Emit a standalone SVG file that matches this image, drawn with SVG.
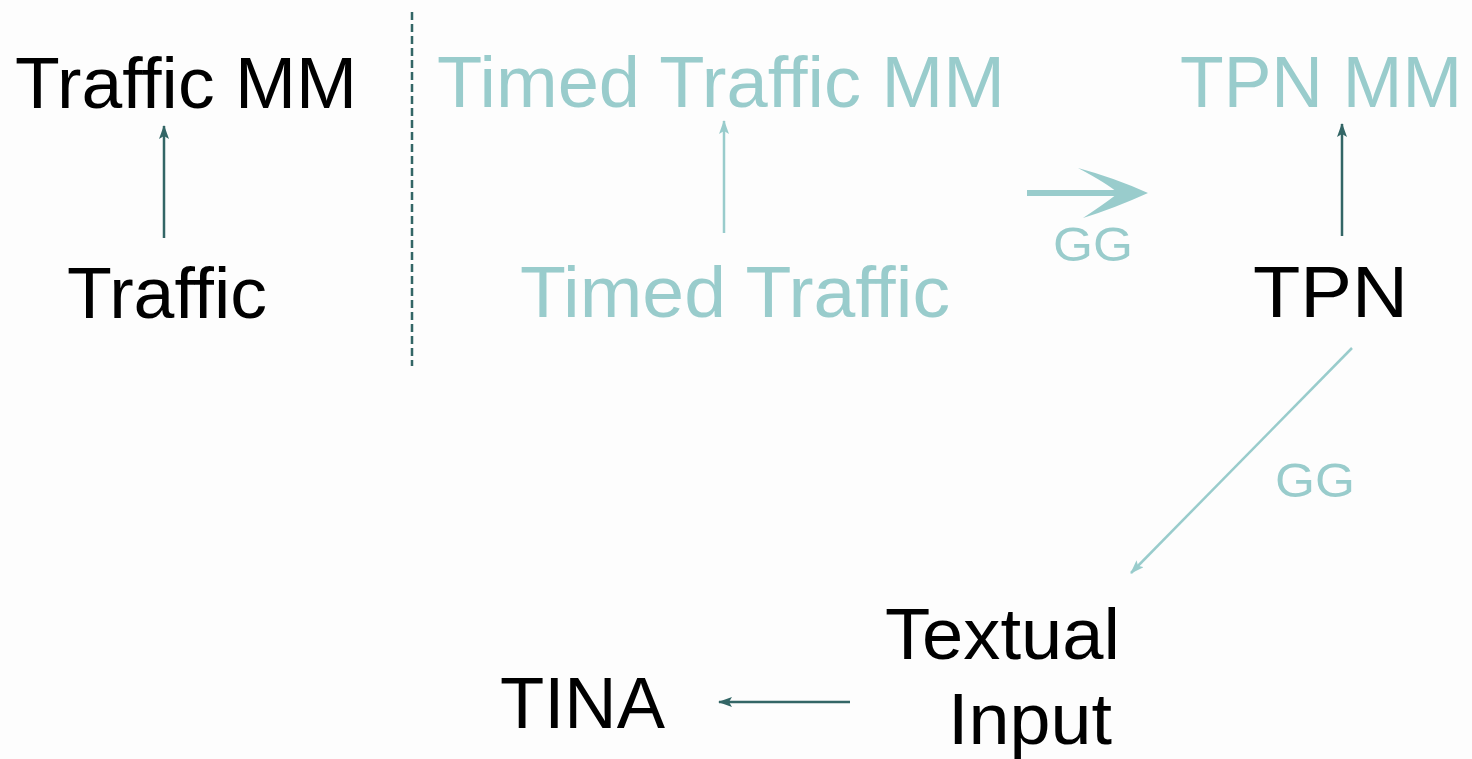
<svg xmlns="http://www.w3.org/2000/svg" width="1472" height="759" viewBox="0 0 1472 759">
  <style>
    text { font-variant-ligatures: none; font-feature-settings: "liga" 0, "clig" 0; }
    .big { font-family: "Liberation Sans", Arial, sans-serif; font-size: 73px; }
    .lbl { font-family: "Liberation Sans", Arial, sans-serif; font-size: 48px; fill: #99cccc; }
    .dark { fill: #000000; }
    .light { fill: #99cccc; }
    .cd { stroke: #336666; stroke-width: 2.5; fill: none; }
    .cl { stroke: #99cccc; stroke-width: 2.5; fill: none; }
  </style>
  <defs>
    <marker id="ahD" viewBox="0 0 14 10" refX="13" refY="5" markerWidth="14" markerHeight="10" orient="auto" markerUnits="userSpaceOnUse">
      <path d="M0,0 L14,5 L0,10 L3,5 z" fill="#336666"/>
    </marker>
    <marker id="ahL" viewBox="0 0 14 10" refX="13" refY="5" markerWidth="14" markerHeight="10" orient="auto" markerUnits="userSpaceOnUse">
      <path d="M0,0 L14,5 L0,10 L3,5 z" fill="#99cccc"/>
    </marker>
  </defs>
  <rect x="0" y="0" width="1472" height="759" fill="#fdfdfd"/>

  <g id="connectors">
    <line class="cd" x1="164" y1="238" x2="164" y2="126" marker-end="url(#ahD)"/>
    <line class="cl" x1="724" y1="233" x2="724" y2="121" marker-end="url(#ahL)"/>
    <line class="cd" x1="1342" y1="236" x2="1342" y2="124" marker-end="url(#ahD)"/>
    <line class="cl" x1="1352" y1="348" x2="1131" y2="573" marker-end="url(#ahL)"/>
    <line class="cd" x1="850" y1="702" x2="719" y2="702" marker-end="url(#ahD)"/>
    <line x1="412" y1="12" x2="412" y2="366" stroke="#336666" stroke-width="2.5" stroke-dasharray="8,4"/>
    <g id="gg-arrow">
      <line x1="1027" y1="193" x2="1140" y2="193" stroke="#99cccc" stroke-width="6"/>
      <path d="M1078,168 Q1115,178 1148,193 Q1115,208 1083,218 Q1110,200 1118,193 Q1108,184 1078,168 z" fill="#99cccc"/>
    </g>
    <text class="lbl" x="1053" y="261" textLength="80" lengthAdjust="spacingAndGlyphs">GG</text>
    <text class="lbl" x="1275" y="497" textLength="80" lengthAdjust="spacingAndGlyphs">GG</text>
  </g>

  <g id="node-traffic-mm"><text class="big dark" x="15" y="108" textLength="342" lengthAdjust="spacingAndGlyphs">Traffic MM</text></g>
  <g id="node-traffic"><text class="big dark" x="67" y="318" textLength="200" lengthAdjust="spacingAndGlyphs">Traffic</text></g>
  <g id="node-timed-traffic-mm"><text class="big light" x="437" y="107" textLength="568" lengthAdjust="spacingAndGlyphs">Timed Traffic MM</text></g>
  <g id="node-timed-traffic"><text class="big light" x="520" y="317" textLength="430" lengthAdjust="spacingAndGlyphs">Timed Traffic</text></g>
  <g id="node-tpn-mm"><text class="big light" x="1180" y="107" textLength="282" lengthAdjust="spacingAndGlyphs">TPN MM</text></g>
  <g id="node-tpn"><text class="big dark" x="1253" y="317" textLength="155" lengthAdjust="spacingAndGlyphs">TPN</text></g>
  <g id="node-textual-input">
    <text class="big dark" x="885" y="659" textLength="235" lengthAdjust="spacingAndGlyphs">Textual</text>
    <text class="big dark" x="948" y="744" textLength="164" lengthAdjust="spacingAndGlyphs">Input</text>
  </g>
  <g id="node-tina"><text class="big dark" x="500" y="728" textLength="165" lengthAdjust="spacingAndGlyphs">TINA</text></g>
</svg>
